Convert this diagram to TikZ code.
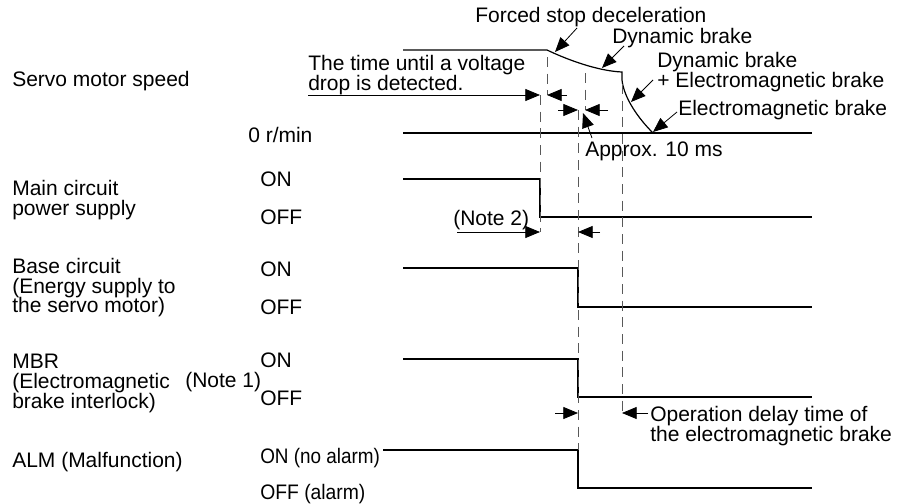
\documentclass[tikz,border=0pt]{standalone}
\usepackage{fontspec}
\setmainfont{Liberation Sans}
\usetikzlibrary{arrows.meta}
\tikzset{
  txt/.style={anchor=north west, inner sep=0pt, align=left,
    font=\fontsize{15.75pt}{14.8pt}\selectfont},
  sig/.style={line width=0.9pt},
  guide/.style={black!65, line width=0.6pt, dash pattern=on 7.5pt off 5pt},
  dim/.style={line width=0.6pt, ->},
}

\begin{document}
\begin{tikzpicture}[x=0.75pt, y=-0.75pt, >={Triangle[length=11pt,width=9pt]}]
  \useasboundingbox (0,0) rectangle (908,504);
  % signal names
  \node[txt] (speed) at (12,71) {Servo motor speed};
  \node[txt] (main) at (12,180) {Main circuit\\power supply};
  \node[txt] (base) at (12,258) {Base circuit\\(Energy supply to\\the servo motor)};
  \node[txt] (mbr) at (12,354) {MBR\\(Electromagnetic\\brake interlock)};
  \node[txt] (note1) at (185,372) {(Note 1)};
  \node[txt] (alm) at (12,452) {ALM (Malfunction)};
  % levels
  \node[txt] (zero) at (248,127) {0 r/min};
  \node[txt] (mainon) at (260,172) {ON};
  \node[txt] (mainoff) at (260,210) {OFF};
  \node[txt] (baseon) at (260,262) {ON};
  \node[txt] (baseoff) at (260,300) {OFF};
  \node[txt] (mbron) at (260,353) {ON};
  \node[txt] (mbroff) at (260,391) {OFF};
  \node[txt] (almon) at (260,448) {\scalebox{0.9}[1]{ON (no alarm)}};
  \node[txt] (almoff) at (260,484) {\scalebox{0.92}[1]{OFF (alarm)}};
  % waveforms
  \draw[sig] (403,50) -- (547,50) .. controls (568,60) and (598,71) .. (622,72)
    -- (622,80) .. controls (624,98) and (638,118) .. (653,133);
  \draw[sig] (403,133) -- (812,133);
  \draw[sig] (403,179) -- (540,179) -- (540,217) -- (812,217);
  \draw[sig] (403,268) -- (578,268) -- (578,307) -- (812,307);
  \draw[sig] (403,359) -- (578,359) -- (578,397) -- (812,397);
  \draw[sig] (383,450) -- (578,450) -- (578,488) -- (812,488);
  % timing guides
  \draw[guide] (547,57) -- (547,95);
  \draw[guide] (540,95) -- (540,232);
  \draw[guide] (585,73) -- (585,110);
  \draw[guide] (578,110) -- (578,450);
  \draw[guide] (622,84) -- (622,413);
  % intervals
  \node[txt] (detect) at (308,55) {The time until a voltage\\drop is detected.};
  \draw[dim] (308,95) -- (540,95);
  \draw[dim] (567,95) -- (547,95);
  \draw[dim] (558,110) -- (578,110);
  \draw[dim] (608,110) -- (585,110);
  \node[txt] (note2) at (453,210) {(Note 2)};
  \draw[dim] (457,232) -- (540,232);
  \draw[dim] (600,232) -- (578,232);
  \node[txt] (delay) at (650,406) {Operation delay time of\\the electromagnetic brake};
  \draw[dim] (555,413) -- (578,413);
  \draw[dim] (648,413) -- (622,413);
  % braking phases
  \node[txt] (fsd) at (475,7) {Forced stop deceleration};
  \node[txt] (db) at (612,28) {Dynamic brake};
  \node[txt] (dbem) at (657,52) {Dynamic brake\\+ Electromagnetic brake};
  \node[txt] (emb) at (678,100) {Electromagnetic brake};
  \node[txt] (approx) at (585,142) {Approx. 10 ms};
  \coordinate (fsdtip) at (555,52);
  \coordinate (dbtip) at (602,68);
  \coordinate (dbemtip) at (631,102);
  \coordinate (embtip) at (653,132);
  \coordinate (approxtip) at (583,113);
  \draw[dim] (577,28) -- (fsdtip);
  \draw[dim] (624,46) -- (dbtip);
  \draw[dim] (653,80) -- (dbemtip);
  \draw[dim] (677,112) -- (embtip);
  \draw[dim] (592,138) -- (approxtip);
\end{tikzpicture}
\end{document}
